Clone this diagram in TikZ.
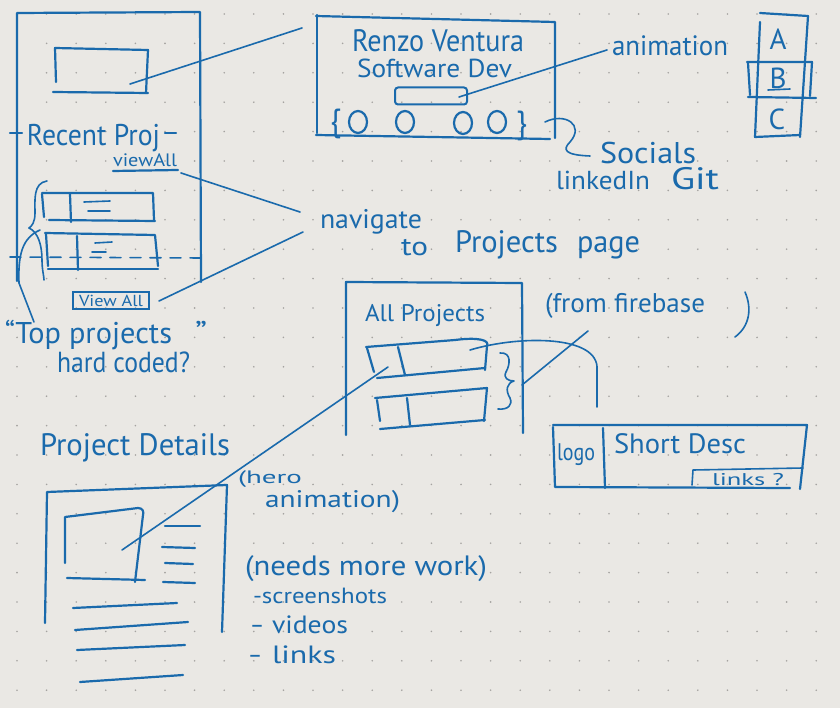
\documentclass[tikz,border=0pt]{standalone}
\usepackage{fontspec}
\usepackage{graphicx}
\setmainfont{PT Sans}
\usetikzlibrary{calc}
\definecolor{ink}{RGB}{26,106,172}
\definecolor{paper}{RGB}{234,232,228}
\definecolor{dotc}{RGB}{165,163,160}
% set a word at a given size, then squeeze or stretch it to a given width
\newcommand{\fitw}[3]{\resizebox{#2pt}{\height}{\fontsize{#1}{#1}\selectfont #3}}
\tikzset{
  pen/.style={draw=ink, line width=2.2pt, line cap=round, line join=round},
  fine/.style={draw=ink, line width=1.6pt, line cap=round, line join=round},
  hand/.style={text=ink, inner sep=0pt, outer sep=0pt, anchor=base west},
  letter/.style={text=ink, inner sep=0pt, font=\fontsize{29}{29}\selectfont},
}
\begin{document}
\begin{tikzpicture}[x=1pt,y=-1pt]
\fill[paper] (0,0) rectangle (840,708);
\useasboundingbox (0,0) rectangle (840,708);
% dotted notebook paper
\foreach \i in {0,...,28} {
  \foreach \j in {0,...,24} {
    \fill[dotc] ({17+29.6*\i},{14+29.4*\j}) circle (0.9pt);
  }
}

% ---------- home page (left phone) ----------
\draw[pen] (17,281) -- (17,13) -- (200,12) -- (201,282);
\draw[pen] (56,82) -- (55,48) -- (148,50) -- (146,93);
\draw[pen] (53,92) -- (148,93);
\coordinate (heroTip) at (130,84);

\draw[pen] (10,133) -- (22,133);
\node[hand] (recent) at (27,146) {\fitw{30}{133}{Recent Proj}};
\draw[pen] (165,133) -- (176,133);
\node[hand] (viewall) at (113,167) {\fitw{18}{64}{viewAll}};
\draw[pen] (113,171) -- (178,170);
\coordinate (vaEnd) at (181,173);

% recent project rows
\draw[pen] (42,193) -- (153,193) -- (154,220);
\draw[pen] (42,194) -- (44,217);
\draw[pen] (49,220) -- (155,221);
\draw[pen] (70,194) -- (71,222);
\draw[fine] (84,202) -- (110,201);
\draw[fine] (88,211) -- (110,211);

\draw[pen] (45,233) -- (155,235) -- (158,266);
\draw[pen] (46,234) -- (48,266);
\draw[pen] (48,269) -- (158,269);
\draw[pen] (77,236) -- (78,270);
\draw[fine] (95,243) -- (112,242);
\draw[fine] (92,252) -- (106,252);
\draw[fine, dash pattern=on 11pt off 9pt] (10,257) -- (202,258);

% brackets grouping the rows
\draw[fine] (47,181) .. controls (33,183) and (35,200) .. (35,213) .. controls (35,222) and (32,226) .. (29,228);
\draw[fine] (29,228) .. controls (38,232) and (42,245) .. (42,260) .. controls (42,270) and (44,276) .. (44,280);
\draw[fine] (40,230) .. controls (22,238) and (18,255) .. (19,283) -- (34,322);

\node[draw=ink, line width=2pt, text=ink, inner sep=0pt, minimum width=76pt, minimum height=17pt] (btn) at (111,301) {\fitw{16}{64}{View All}};

\node[hand] (topq) at (5,343) {\fitw{30}{167}{“Top projects}};
\node[hand] (topq2) at (195,342) {\fitw{30}{12}{”}};
\node[hand] (hard) at (57,372) {\fitw{29}{133}{hard coded?}};

% ---------- hero header ----------
\draw[pen] (316,16) -- (555,22) -- (555,138);
\draw[pen] (317,15) -- (317,133);
\draw[pen] (316,135) -- (550,139);
\node[hand] (name) at (352,52) {\fitw{31}{172}{Renzo Ventura}};
\node[hand] (role) at (357,78) {\fitw{26}{155}{Software Dev}};
\node[draw=ink, line width=2pt, rounded corners=3pt, inner sep=0pt, minimum width=72pt, minimum height=17pt] (anim) at (431,96) {};
\coordinate (animTip) at (459,97);
\node[hand] (brL) at (330,132) {\fontsize{32}{32}\selectfont\{};
\draw[pen] (358,122) ellipse (9pt and 11pt);
\draw[pen] (405,122) ellipse (9pt and 11pt);
\draw[pen] (463,123) ellipse (9pt and 11pt);
\draw[pen] (497,122) ellipse (9pt and 11pt);
\node[hand] (brR) at (516,134) {\fontsize{32}{32}\selectfont\}};
\coordinate (socTip) at (545,122);

\coordinate (animEnd) at (607,50);
\draw[fine] (heroTip) -- (302,28) coordinate (nameEnd);
\draw[fine] (animTip) -- (animEnd);
\node[hand] (animtxt) at (612,56) {\fitw{28}{116}{animation}};

\draw[fine] (socTip) .. controls (565,112) and (585,125) .. (570,142) .. controls (562,150) and (565,155) .. (590,156) coordinate (socEnd);
\node[hand] (soc) at (600,164) {\fitw{30}{96}{Socials}};
\node[hand] (lnk) at (556,190) {\fitw{26}{94}{linkedIn}};
\node[hand] (git) at (671,190) {\fitw{31}{48}{Git}};

% ---------- A / B / C stack ----------
\draw[pen] (760,13) -- (808,16);
\draw[pen] (760,22) -- (755,137) -- (800,135);
\draw[pen] (808,16) -- (800,137);
\draw[pen] (747,62) -- (812,62) -- (810,96);
\draw[pen] (748,63) -- (750,95);
\draw[pen] (748,97) -- (816,98);
\node[letter] (la) at (778,39) {A};
\node[letter] (lb) at (778,78) {B};
\draw[fine] (768,90) -- (790,89);
\node[letter] (lc) at (777,119) {C};

% ---------- navigation note ----------
\coordinate (navA) at (300,212);
\coordinate (navB) at (303,232);
\draw[fine] (vaEnd) -- (navA);
\draw[fine] ($(btn.east)+(9,0)$) -- (navB);
\node[hand] (nav) at (320,229) {\fitw{27}{102}{navigate}};
\node[hand] (to) at (401,256) {\fitw{26}{27}{to}};
\node[hand] (projs) at (455,253) {\fitw{31}{103}{Projects}};
\node[hand] (page) at (577,253) {\fitw{31}{63}{page}};

% ---------- all projects page ----------
\draw[pen] (346,435) -- (346,282) -- (522,283) -- (523,433);
\node[hand] (allp) at (365,322) {\fitw{24}{120}{All Projects}};
\draw[pen] (366,347) -- (455,340) .. controls (478,337) and (490,340) .. (487,346) -- (485,370);
\draw[pen] (367,348) -- (374,372);
\draw[pen] (377,378) -- (485,368);
\draw[pen] (398,347) -- (405,375);
\draw[pen] (375,398) -- (487,388) -- (484,421);
\draw[pen] (377,400) -- (380,421);
\draw[pen] (380,429) -- (485,420);
\draw[pen] (407,398) -- (410,425);
\draw[fine] (500,353) .. controls (512,352) and (510,365) .. (506,372) .. controls (503,378) and (508,381) .. (514,381) .. controls (507,383) and (505,390) .. (510,398) .. controls (513,405) and (508,410) .. (498,409);
\coordinate (brTip) at (522,385);
\coordinate (fbEnd) at (588,331);
\draw[fine] (brTip) -- (fbEnd);
\coordinate (rowTip) at (470,350);
\coordinate (rowIn) at (388,367);

\node[hand] (fb) at (545,313) {\fitw{27}{160}{(from firebase}};
\draw[fine] (745,292) .. controls (752,308) and (750,326) .. (735,337);

% ---------- project card ----------
\draw[pen] (553,425) -- (807,425) -- (800,489);
\draw[pen] (553,427) -- (555,487) -- (790,488);
\draw[pen] (603,428) -- (605,488);
\coordinate (cardTop) at (597,407);
\draw[fine] (rowTip) .. controls (520,335) and (600,335) .. (597,370) -- (cardTop);
\node[hand] (logo) at (557,460) {\fitw{24}{38}{logo}};
\node[hand] (sd) at (614,453) {\fitw{28}{132}{Short Desc}};
\draw[fine] (692,485) -- (693,470) -- (803,468);
\node[hand] (lk) at (712,485) {\fitw{17}{72}{links ?}};

% ---------- project details page ----------
\node[hand] (pd) at (40,455) {\fitw{31}{190}{Project Details}};
\draw[pen] (45,623) -- (47,492) -- (227,485) -- (222,632);
\draw[pen] (65,563) -- (65,517) -- (138,508) .. controls (143,508) and (144,512) .. (143,515) -- (135,582);
\draw[pen] (67,578) -- (145,580);
\coordinate (imgTip) at (122,550);
\draw[fine] (imgTip) -- (rowIn);
\draw[pen] (165,526) -- (200,526);
\draw[pen] (162,547) -- (195,548);
\draw[pen] (165,563) -- (193,564);
\draw[pen] (163,582) -- (195,583);
\draw[pen] (73,608) -- (177,603);
\draw[pen] (75,630) -- (188,622);
\draw[pen] (77,650) -- (185,645);
\draw[pen] (80,682) -- (183,675);

\node[hand] (hero) at (238,483) {\fitw{18}{64}{(hero}};
\node[hand] (anim2) at (265,507) {\fitw{24}{135}{animation)}};
\node[hand] (nmw) at (245,575) {\fitw{28}{242}{(needs more work)}};
\node[hand] (ss) at (253,603) {\fitw{22}{134}{-screenshots}};
\node[hand] (vid) at (250,633) {\fitw{25}{14}{-}};
\node[hand] (vid2) at (272,633) {\fitw{25}{76}{videos}};
\node[hand] (lks) at (248,663) {\fitw{25}{14}{-}};
\node[hand] (lks2) at (272,663) {\fitw{25}{64}{links}};
\end{tikzpicture}
\end{document}
